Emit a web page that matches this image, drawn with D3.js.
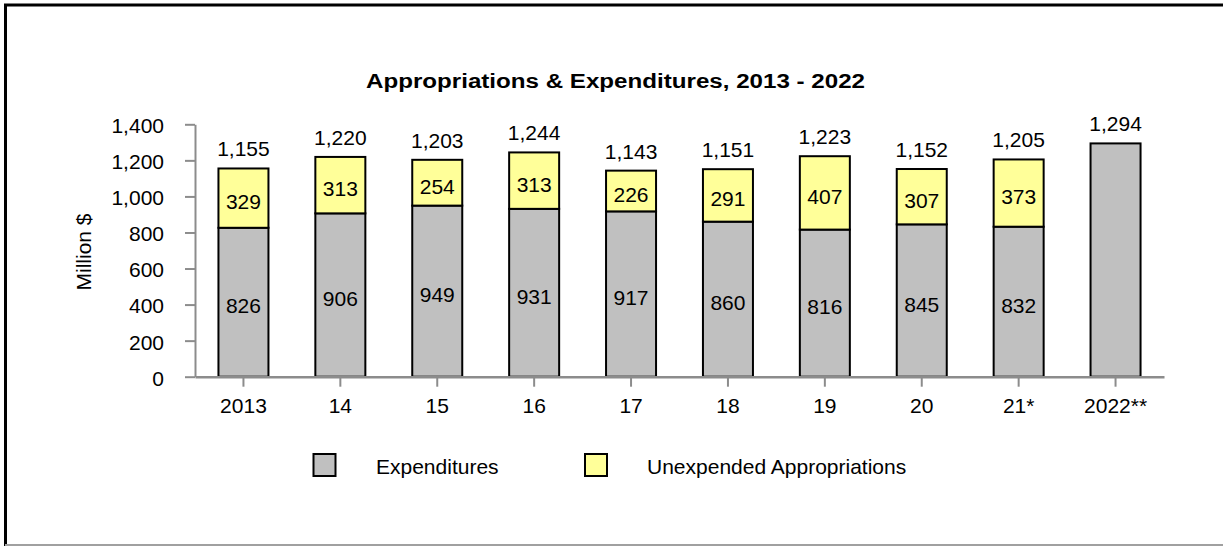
<!DOCTYPE html>
<html>
<head>
<meta charset="utf-8">
<script src="https://cdn.jsdelivr.net/npm/d3@7"></script>
<style>
  html, body { margin: 0; padding: 0; background: #fff; }
  svg { display: block; font-family: "Liberation Sans", Arial, Helvetica, sans-serif; }
</style>
</head>
<body>
<svg id="chart" width="1223" height="546"></svg>
<script>
// ---- data ----
const categories = ["2013", "14", "15", "16", "17", "18", "19", "20", "21*", "2022**"];
const expenditures = [826, 906, 949, 931, 917, 860, 816, 845, 832, 1294];
const unexpended = [329, 313, 254, 313, 226, 291, 407, 307, 373, 0];
const totals = [1155, 1220, 1203, 1244, 1143, 1151, 1223, 1152, 1205, 1294];
const showExpLabel = [true, true, true, true, true, true, true, true, true, false];
const yTicks = [0, 200, 400, 600, 800, 1000, 1200, 1400];
const seriesNames = ["Expenditures", "Unexpended Appropriations"];
const seriesColors = ["#C0C0C0", "#FFFF99"];
const titleText = "Appropriations & Expenditures, 2013 - 2022";
const yTitle = "Million $";

// ---- layout ----
const svg = d3.select("#chart");
const W = 1223, H = 546;
const plot = { left: 195, right: 1164, top: 124.3, bottom: 376.7 };
const FS = 21;

// frame
svg.append("path")
  .attr("d", `M5.5,${H} L5.5,5 L${W},5`)
  .attr("fill", "none").attr("stroke", "#000").attr("stroke-width", 3);
svg.append("line")
  .attr("x1", 5).attr("x2", W).attr("y1", 545).attr("y2", 545)
  .attr("stroke", "#a0a0a0").attr("stroke-width", 2);

// scales
const x = d3.scaleBand().domain(categories)
  .range([plot.left, plot.right]).paddingInner(0.484).paddingOuter(0.242);
const y = d3.scaleLinear().domain([0, 1400]).range([plot.bottom, plot.top]);

// title
svg.append("text")
  .attr("x", 615.5).attr("y", 87.5)
  .attr("text-anchor", "middle")
  .attr("font-size", 20).attr("font-weight", "bold")
  .attr("textLength", 499).attr("lengthAdjust", "spacingAndGlyphs")
  .text(titleText);

// y axis title
svg.append("text")
  .attr("transform", "translate(91,252) rotate(-90)")
  .attr("text-anchor", "middle")
  .attr("font-size", FS)
  .text(yTitle);

// bars
const data = categories.map((c, i) => ({
  cat: c, exp: expenditures[i], une: unexpended[i], tot: totals[i], showExp: showExpLabel[i]
}));

const g = svg.append("g");
// expenditures
g.selectAll("rect.exp").data(data).join("rect")
  .attr("class", "exp")
  .attr("x", d => x(d.cat)).attr("width", x.bandwidth())
  .attr("y", d => y(d.exp)).attr("height", d => y(0) - y(d.exp))
  .attr("fill", seriesColors[0]).attr("stroke", "#000").attr("stroke-width", 2);
// unexpended
g.selectAll("rect.une").data(data.filter(d => d.une > 0)).join("rect")
  .attr("class", "une")
  .attr("x", d => x(d.cat)).attr("width", x.bandwidth())
  .attr("y", d => y(d.exp + d.une)).attr("height", d => y(d.exp) - y(d.exp + d.une))
  .attr("fill", seriesColors[1]).attr("stroke", "#000").attr("stroke-width", 2);

// segment labels
g.selectAll("text.explab").data(data.filter(d => d.showExp)).join("text")
  .attr("class", "explab")
  .attr("x", d => x(d.cat) + x.bandwidth() / 2)
  .attr("y", d => y(d.exp / 2) + 11)
  .attr("text-anchor", "middle").attr("font-size", FS)
  .text(d => d3.format(",")(d.exp));
g.selectAll("text.unelab").data(data.filter(d => d.une > 0)).join("text")
  .attr("class", "unelab")
  .attr("x", d => x(d.cat) + x.bandwidth() / 2)
  .attr("y", d => y(d.exp + d.une / 2) + 11)
  .attr("text-anchor", "middle").attr("font-size", FS)
  .text(d => d3.format(",")(d.une));
// totals
g.selectAll("text.totlab").data(data).join("text")
  .attr("class", "totlab")
  .attr("x", d => x(d.cat) + x.bandwidth() / 2)
  .attr("y", d => y(d.exp + d.une) - 12)
  .attr("text-anchor", "middle").attr("font-size", FS)
  .text(d => d3.format(",")(d.tot));

// y axis
const yAxis = svg.append("g")
  .attr("transform", `translate(${plot.left},0)`)
  .call(d3.axisLeft(y).tickValues(yTicks).tickFormat(d3.format(","))
    .tickSize(10).tickSizeOuter(0).tickPadding(21));
yAxis.select(".domain").attr("stroke", "#8c8c8c").attr("stroke-width", 2);
yAxis.selectAll(".tick line").attr("stroke", "#8c8c8c").attr("stroke-width", 2);
yAxis.selectAll(".tick text").attr("font-size", FS).attr("fill", "#000")
  .attr("font-family", null).attr("dy", "0.4em");
yAxis.attr("font-family", null);

// x axis
const xAxis = svg.append("g")
  .attr("transform", `translate(0,${plot.bottom})`)
  .call(d3.axisBottom(x).tickSize(10).tickSizeOuter(0));
xAxis.select(".domain").attr("stroke", "#8c8c8c").attr("stroke-width", 2.5);
xAxis.selectAll(".tick line").attr("stroke", "#8c8c8c").attr("stroke-width", 2);
xAxis.selectAll(".tick text").attr("font-size", FS).attr("fill", "#000")
  .attr("y", 36).attr("dy", 0);
xAxis.attr("font-family", null);

// legend
const legendItems = [
  { name: seriesNames[0], color: seriesColors[0], bx: 313.5, tx: 376 },
  { name: seriesNames[1], color: seriesColors[1], bx: 585, tx: 647 }
];
const lg = svg.append("g");
legendItems.forEach(it => {
  lg.append("rect")
    .attr("x", it.bx).attr("y", 454).attr("width", 22).attr("height", 22)
    .attr("fill", it.color).attr("stroke", "#000").attr("stroke-width", 2);
  lg.append("text")
    .attr("x", it.tx).attr("y", 474)
    .attr("font-size", FS)
    .text(it.name);
});
</script>
</body>
</html>
